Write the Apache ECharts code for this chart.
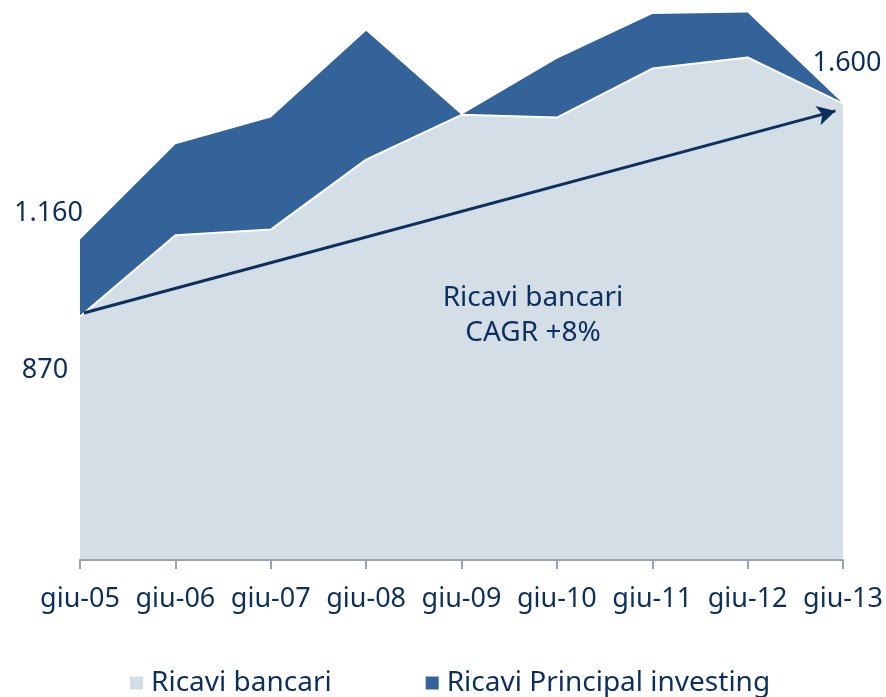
<!DOCTYPE html>
<html>
<head>
<meta charset="utf-8">
<script src="https://cdn.jsdelivr.net/npm/echarts@6/dist/echarts.min.js"></script>
<style>
  html, body { margin: 0; padding: 0; background: #ffffff; }
  #chart { width: 886px; height: 697px; }
</style>
</head>
<body>
<div id="chart"></div>
<script>
// ---- data ----
const categories = ['giu-05', 'giu-06', 'giu-07', 'giu-08', 'giu-09', 'giu-10', 'giu-11', 'giu-12', 'giu-13'];
const ricaviBancari = [870, 1160, 1180, 1430, 1590, 1580, 1755, 1795, 1630];
const ricaviPrincipalInvesting = [275, 325, 400, 460, 0, 210, 195, 160, 0];
const seriesNames = ['Ricavi bancari', 'Ricavi Principal investing'];
const labelFirstTotal = '1.160';
const labelFirstBancari = '870';
const labelLastTotal = '1.600';
const cagrText = ['Ricavi bancari', 'CAGR +8%'];
// CAGR arrow start/end (x as category index, y as value)
const cagrFrom = [0.04, 882];
const cagrTo = [7.92, 1604];

// ---- style ----
const NAVY = '#0c2f5d';
const DARK = '#336399';
const LIGHT = '#d4dee7';
const AXIS = '#9ea2b0';
const FONT = 'Noto Sans';

const n = categories.length;
const totals = ricaviBancari.map((v, i) => v + ricaviPrincipalInvesting[i]);

const labelPoints = [
  { value: [0, totals[0]], label: { formatter: labelFirstTotal, align: 'right', offset: [3, -26] } },
  { value: [0, ricaviBancari[0]], label: { formatter: labelFirstBancari, align: 'center', offset: [-35, 54] } },
  { value: [n - 1, totals[n - 1]], label: { formatter: labelLastTotal, align: 'center', offset: [4, -40] } }
];

const chart = echarts.init(document.getElementById('chart'), null, { renderer: 'canvas' });
chart.setOption({
  animation: false,
  backgroundColor: '#ffffff',
  textStyle: { fontFamily: FONT },
  grid: { left: 80, right: 43, top: 0, bottom: 137, containLabel: false },
  xAxis: [
    {
      type: 'category',
      data: categories,
      boundaryGap: false,
      axisLine: { show: true, lineStyle: { color: AXIS, width: 2 } },
      axisTick: { show: true, alignWithLabel: true, length: 9, lineStyle: { color: AXIS, width: 2 } },
      axisLabel: { color: NAVY, fontSize: 27, fontFamily: FONT, margin: 26, interval: 0 },
      splitLine: { show: false },
      z: 5
    },
    { type: 'value', min: 0, max: n - 1, show: false }
  ],
  yAxis: { type: 'value', min: 0, max: 2000, show: false },
  legend: {
    data: seriesNames,
    left: 125,
    top: 664,
    icon: 'rect',
    itemWidth: 13,
    itemHeight: 13,
    itemGap: 94,
    textStyle: { color: NAVY, fontSize: 28, fontFamily: FONT, padding: [0, 0, 0, 3] }
  },
  graphic: [
    {
      type: 'text',
      x: 533,
      y: 281,
      style: {
        text: cagrText.join('\n'),
        fill: NAVY,
        font: '28px "Noto Sans"',
        align: 'center',
        verticalAlign: 'top',
        lineHeight: 35
      },
      z: 50
    }
  ],
  series: [
    {
      name: seriesNames[0],
      type: 'line',
      stack: 'total',
      data: ricaviBancari,
      symbol: 'none',
      showSymbol: false,
      itemStyle: { color: LIGHT },
      lineStyle: { color: '#ffffff', width: 2 },
      areaStyle: { color: LIGHT, opacity: 1 },
      z: 3
    },
    {
      name: seriesNames[1],
      type: 'line',
      stack: 'total',
      data: ricaviPrincipalInvesting,
      symbol: 'none',
      showSymbol: false,
      itemStyle: { color: DARK },
      lineStyle: { width: 0 },
      areaStyle: { color: DARK, opacity: 1 },
      z: 2
    },
    {
      name: 'cagr',
      type: 'line',
      xAxisIndex: 1,
      data: [cagrFrom, cagrTo],
      symbol: 'none',
      lineStyle: { opacity: 0 },
      silent: true,
      z: 10,
      markLine: {
        silent: true,
        symbol: ['none', 'arrow'],
        symbolSize: [15, 18],
        label: { show: false },
        lineStyle: { color: NAVY, width: 3, type: 'solid' },
        data: [[{ coord: cagrFrom }, { coord: cagrTo }]]
      }
    },
    {
      name: 'labels',
      type: 'scatter',
      data: labelPoints,
      symbolSize: 1,
      itemStyle: { color: 'transparent', opacity: 1 },
      silent: true,
      z: 20,
      label: {
        show: true,
        position: 'inside',
        color: NAVY,
        fontSize: 27,
        fontFamily: FONT,
        verticalAlign: 'middle',
        textBorderWidth: 0
      }
    }
  ]
});
</script>
</body>
</html>
